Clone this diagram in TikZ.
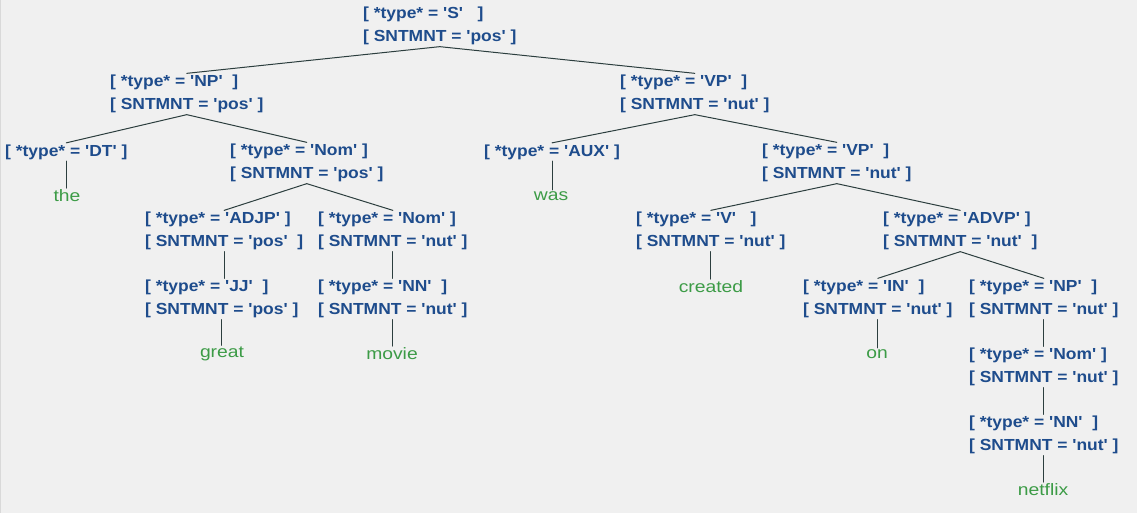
\documentclass[tikz,border=0pt]{standalone}
\usepackage{fontspec}
\newfontfamily\treefont[FakeStretch=1.09]{Liberation Sans}
\newfontfamily\wordfont[FakeStretch=1.17]{Liberation Sans}
\definecolor{tagblue}{RGB}{30,76,140}
\definecolor{leafgreen}{RGB}{60,155,70}
\definecolor{branchgray}{RGB}{44,62,62}
\definecolor{panelgray}{RGB}{240,240,240}

\begin{document}
\begin{tikzpicture}[line cap=round,line join=round,x=1pt,y=-1pt,
    tag/.style={anchor=west,align=left,inner xsep=0pt,inner ysep=1.5pt,text=tagblue,
      font=\treefont\bfseries\fontsize{16}{23}\selectfont},
    leaf/.style={inner sep=1.5pt,text=leafgreen,font=\wordfont\fontsize{16.5}{23}\selectfont},
    branch/.style={draw=branchgray,line width=1pt}]
      \fill[color=panelgray] (0,0) rectangle (1137,513);
      \useasboundingbox (0,0) rectangle (1137,513);
      \draw[color=black!15] (0.5,0) -- (0.5,513);
      % tags
      \node[tag] (s) at (363,26) {[ *type* = 'S'~~~]\\{[} SNTMNT = 'pos' ]};
      \node[tag] (np) at (110,94) {[ *type* = 'NP'~~]\\{[} SNTMNT = 'pos' ]};
      \node[tag] (vp) at (620,94) {[ *type* = 'VP'~~]\\{[} SNTMNT = 'nut' ]};
      \node[tag] (dt) at (5,152) {[ *type* = 'DT' ]};
      \node[tag] (nom) at (230,163) {[ *type* = 'Nom' ]\\{[} SNTMNT = 'pos' ]};
      \node[tag] (aux) at (484,152) {[ *type* = 'AUX' ]};
      \node[tag] (vpb) at (762,163) {[ *type* = 'VP'~~]\\{[} SNTMNT = 'nut' ]};
      \node[tag] (adjp) at (145,231) {[ *type* = 'ADJP' ]\\{[} SNTMNT = 'pos'~~]};
      \node[tag] (nomb) at (318,231) {[ *type* = 'Nom' ]\\{[} SNTMNT = 'nut' ]};
      \node[tag] (v) at (636,231) {[ *type* = 'V'~~~]\\{[} SNTMNT = 'nut' ]};
      \node[tag] (advp) at (883,231) {[ *type* = 'ADVP' ]\\{[} SNTMNT = 'nut'~~]};
      \node[tag] (jj) at (145,299) {[ *type* = 'JJ'~~]\\{[} SNTMNT = 'pos' ]};
      \node[tag] (nn) at (318,299) {[ *type* = 'NN'~~]\\{[} SNTMNT = 'nut' ]};
      \node[tag] (in) at (803,299) {[ *type* = 'IN'~~]\\{[} SNTMNT = 'nut' ]};
      \node[tag] (npb) at (969,299) {[ *type* = 'NP'~~]\\{[} SNTMNT = 'nut' ]};
      \node[tag] (nomc) at (969,367) {[ *type* = 'Nom' ]\\{[} SNTMNT = 'nut' ]};
      \node[tag] (nnb) at (969,435) {[ *type* = 'NN'~~]\\{[} SNTMNT = 'nut' ]};
      % words
      \node[leaf] (the) at (67,196) {the};
      \node[leaf] (was) at (551,196) {was};
      \node[leaf] (created) at (711,287) {created};
      \node[leaf] (great) at (222,354) {great};
      \node[leaf] (movie) at (392,354) {movie};
      \node[leaf] (on) at (877,354) {on};
      \node[leaf] (netflix) at (1043,490) {netflix};
      % branches
      \foreach \a/\b in {s/np,s/vp,np/dt,np/nom,vp/aux,vp/vpb,nom/adjp,nom/nomb,vpb/v,vpb/advp,advp/in,advp/npb}
      \draw[branch] (\a.south) -- (\b.north);
      \foreach \a/\b in {adjp/jj,nomb/nn,npb/nomc,nomc/nnb,dt/the,aux/was,jj/great,nn/movie,v/created,in/on,nnb/netflix}
      \draw[branch] (\a.south) -- (\a.south |- \b.north);
    \end{tikzpicture}
\end{document}
